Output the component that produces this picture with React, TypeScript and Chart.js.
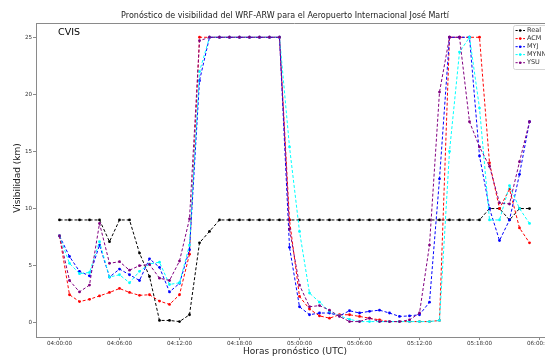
import { useEffect, useRef } from 'react';
import { Chart, registerables } from 'chart.js';

Chart.register(...registerables);

const FONT = 'DejaVu Sans';

const HOURS = [0, 1, 2, 3, 4, 5, 6, 7, 8, 9, 10, 11, 12, 13, 14, 15, 16, 17, 18, 19, 20, 21, 22, 23,
  24, 25, 26, 27, 28, 29, 30, 31, 32, 33, 34, 35, 36, 37, 38, 39, 40, 41, 42, 43, 44, 45, 46, 47];

const TICK_VALUES = [0, 6, 12, 18, 24, 30, 36, 42, 48];
const TICK_LABELS = ['04:00:00', '04:06:00', '04:12:00', '04:18:00', '05:00:00', '05:06:00', '05:12:00', '05:18:00', '06:00:00'];
const Y_TICKS = [0, 5, 10, 15, 20, 25];

const REAL = [9, 9, 9, 9, 9, 7.1, 9, 9, 6.1, 4.05, 0.2, 0.2, 0.1, 0.7, 7.0, 8.0,
  9, 9, 9, 9, 9, 9, 9, 9, 9, 9, 9, 9, 9, 9, 9, 9, 9, 9, 9, 9, 9, 9, 9, 9, 9, 9, 9,
  10, 10, 9, 10, 10];

const ACM = [7.6, 2.45, 1.85, 2.05, 2.35, 2.65, 3.0, 2.65, 2.4, 2.45, 1.9, 1.6, 2.45, 6.0, 25,
  25, 25, 25, 25, 25, 25, 25, 25,
  9.0, 2.3, 1.2, 0.6, 0.4, 0.7, 0.7, 0.55, 0.4, 0.25, 0.1, 0.1, 0.1, 0.1, 0.1, 0.2,
  25, 25, 25, 25, 14.0, 10.0, 11.7, 8.3, 7.0];

const MYJ = [7.6, 5.8, 4.5, 4.1, 6.8, 4.0, 4.7, 4.2, 3.7, 5.6, 4.85, 2.7, 3.45, 6.4, 21.2,
  25, 25, 25, 25, 25, 25, 25, 25,
  6.6, 1.4, 0.7, 0.85, 0.85, 0.6, 1.05, 0.85, 1.0, 1.1, 0.85, 0.55, 0.6, 0.7, 1.8, 12.6,
  25, 25, 25, 14.6, 10.0, 7.2, 9.0, 13.0, 17.6];

const MYNN = [7.6, 5.2, 4.3, 4.4, 7.1, 4.0, 4.2, 3.5, 4.5, 5.15, 5.3, 3.35, 3.5, 6.8, 22.0,
  25, 25, 25, 25, 25, 25, 25, 25,
  15.4, 8.0, 2.6, 1.8, 1.0, 0.6, 0.3, 0.1, 0.1, 0.1, 0.1, 0.1, 0.1, 0.1, 0.1, 0.2,
  15.0, 23.7, 25, 18.8, 9.0, 9.0, 12.0, 10.0, 8.7];

const YSU = [7.6, 3.7, 2.7, 3.3, 8.7, 5.2, 5.35, 4.6, 5.0, 5.1, 3.9, 3.7, 5.4, 9.1, 24.7,
  25, 25, 25, 25, 25, 25, 25, 25,
  8.2, 3.3, 1.4, 1.5, 1.1, 0.55, 0.1, 0.1, 0.4, 0.1, 0.1, 0.1, 0.25, 0.85, 6.8, 20.2,
  25, 25, 17.6, 15.4, 13.7, 10.5, 10.4, 14.1, 17.6];

const SERIES_NAMES = ['Real', 'ACM', 'MYJ', 'MYNN', 'YSU'];
const SERIES_VALUES = [REAL, ACM, MYJ, MYNN, YSU];
const SERIES_COLORS = ['#000000', '#ff0000', '#0000ff', '#00ffff', '#800080'];

const decor = {
  id: 'decor',
  afterDraw(chart: any) {
    const ctx = chart.ctx as CanvasRenderingContext2D;
    const a = chart.chartArea;
    ctx.save();
    // top/right spines
    ctx.strokeStyle = '#8a8a8a';
    ctx.lineWidth = 1;
    ctx.beginPath();
    ctx.moveTo(a.left, a.top + 0.5);
    ctx.lineTo(a.right, a.top + 0.5);
    ctx.lineTo(a.right, a.bottom);
    ctx.stroke();

    // title
    ctx.fillStyle = '#222';
    ctx.font = `8px "${FONT}"`;
    ctx.textAlign = 'center';
    ctx.textBaseline = 'middle';
    ctx.fillText('Pronóstico de visibilidad del WRF-ARW para el Aeropuerto Internacional José Martí', 285, 16);

    // x label
    ctx.font = `9px "${FONT}"`;
    ctx.fillText('Horas pronóstico (UTC)', 295, 352);

    // y label
    ctx.save();
    ctx.translate(18, 178);
    ctx.rotate(-Math.PI / 2);
    ctx.fillText('Visibilidad (km)', 0, 0);
    ctx.restore();

    // CVIS
    ctx.font = `9.5px "${FONT}"`;
    ctx.textAlign = 'left';
    ctx.fillStyle = '#000';
    ctx.fillText('CVIS', 58, 33);

    // legend
    const lx = 513.5, ly = 25.5, lw = 60, lh = 44;
    ctx.fillStyle = 'rgba(255,255,255,0.85)';
    ctx.strokeStyle = '#d4d4d4';
    ctx.beginPath();
    ctx.roundRect(lx, ly, lw, lh, 2);
    ctx.fill();
    ctx.stroke();
    const ys = [30.5, 38.6, 46.7, 54.6, 62.7];
    ctx.font = `6.5px "${FONT}"`;
    ctx.textBaseline = 'middle';
    SERIES_NAMES.forEach((name, k) => {
      const y = ys[k];
      ctx.strokeStyle = SERIES_COLORS[k];
      ctx.lineWidth = 1;
      ctx.setLineDash([2.2, 1.6]);
      ctx.beginPath();
      ctx.moveTo(515.5, y);
      ctx.lineTo(525, y);
      ctx.stroke();
      ctx.setLineDash([]);
      ctx.fillStyle = SERIES_COLORS[k];
      ctx.beginPath();
      ctx.arc(520.2, y, 1.3, 0, Math.PI * 2);
      ctx.fill();
      ctx.fillStyle = '#333';
      ctx.fillText(name, 527, y);
    });
    ctx.restore();
  },
};

export default function App() {
  const ref = useRef<HTMLCanvasElement>(null);
  useEffect(() => {
    const datasets = SERIES_NAMES.map((name, k) => ({
      label: name,
      data: SERIES_VALUES[k].map((v, i) => ({ x: HOURS[i], y: v })),
      borderColor: SERIES_COLORS[k],
      backgroundColor: SERIES_COLORS[k],
      pointBackgroundColor: SERIES_COLORS[k],
      pointBorderWidth: 0,
      pointRadius: 1.4,
      borderWidth: 1,
      borderDash: [3, 2],
      tension: 0,
      fill: false,
      order: 5 - k,
    }));
    const chart = new Chart(ref.current!, {
      type: 'line',
      data: { datasets },
      options: {
        animation: false,
        responsive: false,
        maintainAspectRatio: false,
        layout: { padding: { left: 0, top: 23, right: 17, bottom: 0 } },
        plugins: {
          legend: { display: false },
          tooltip: { enabled: false },
          title: { display: false },
        },
        scales: {
          x: {
            type: 'linear',
            min: -2.35,
            max: 49.35,
            afterBuildTicks: (s: any) => {
              s.ticks = TICK_VALUES.map((v) => ({ value: v }));
            },
            afterFit: (s: any) => {
              s.height = 19;
            },
            ticks: {
              callback: (v: any) => {
                const idx = TICK_VALUES.indexOf(Number(v));
                return idx >= 0 ? TICK_LABELS[idx] : '';
              },
              font: { family: FONT, size: 5.6 },
              color: '#333',
              padding: 0,
              maxRotation: 0,
              autoSkip: false,
            },
            grid: { display: true, drawOnChartArea: false, drawTicks: true, tickLength: 3, color: '#8a8a8a' },
            border: { display: true, color: '#8a8a8a' },
          },
          y: {
            type: 'linear',
            min: -1.25,
            max: 26.25,
            afterBuildTicks: (s: any) => {
              s.ticks = Y_TICKS.map((v) => ({ value: v }));
            },
            afterFit: (s: any) => {
              s.width = 36;
            },
            ticks: {
              callback: (v: any) => String(v),
              font: { family: FONT, size: 5.6 },
              color: '#333',
              padding: 1,
            },
            grid: { display: true, drawOnChartArea: false, drawTicks: true, tickLength: 3, color: '#8a8a8a' },
            border: { display: true, color: '#8a8a8a' },
          },
        },
      },
      plugins: [decor],
    });
    return () => chart.destroy();
  }, []);
  return (
    <div style={{ position: 'fixed', left: 0, top: 0, width: 545, height: 356, overflow: 'hidden', background: '#fff' }}>
      <canvas ref={ref} width={570} height={356} style={{ display: 'block', width: 570, height: 356 }} />
    </div>
  );
}
